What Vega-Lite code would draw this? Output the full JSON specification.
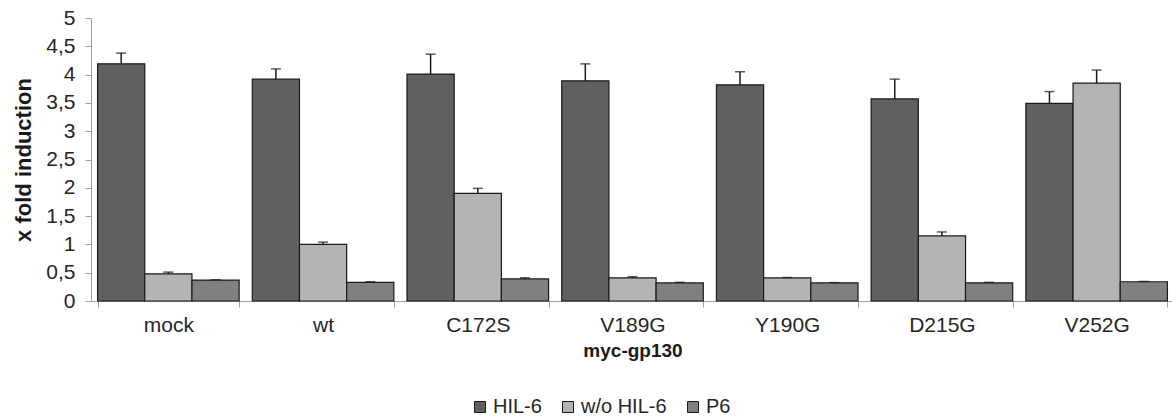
{
  "$schema": "https://vega.github.io/schema/vega-lite/v6.json",
  "width": 1083,
  "height": 283,
  "autosize": {"type": "none"},
  "padding": {"left": 91, "top": 18, "right": 0, "bottom": 118},
  "background": "white",
  "config": {
    "view": {"stroke": null},
    "font": "Liberation Sans",
    "axis": {"labelFont": "Liberation Sans", "titleFont": "Liberation Sans", "labelColor": "#262626", "titleColor": "#1a1a1a", "domainColor": "#a0a0a0", "tickColor": "#a0a0a0", "grid": false},
    "axisY": {"titleFontSize": 22, "titleFontWeight": "bold", "titlePadding": 10, "labelFontSize": 21, "tickSize": 6, "labelPadding": 10, "labelOverlap": false}
  },
  "data": {
    "values": [
      {"group": "mock", "series": "HIL-6", "value": 4.19, "upper": 4.38},
      {"group": "mock", "series": "w/o HIL-6", "value": 0.48, "upper": 0.51},
      {"group": "mock", "series": "P6", "value": 0.37, "upper": 0.375},
      {"group": "wt", "series": "HIL-6", "value": 3.92, "upper": 4.10},
      {"group": "wt", "series": "w/o HIL-6", "value": 1.0, "upper": 1.04},
      {"group": "wt", "series": "P6", "value": 0.33, "upper": 0.34},
      {"group": "C172S", "series": "HIL-6", "value": 4.01, "upper": 4.36},
      {"group": "C172S", "series": "w/o HIL-6", "value": 1.90, "upper": 1.99},
      {"group": "C172S", "series": "P6", "value": 0.39, "upper": 0.41},
      {"group": "V189G", "series": "HIL-6", "value": 3.89, "upper": 4.19},
      {"group": "V189G", "series": "w/o HIL-6", "value": 0.41, "upper": 0.43},
      {"group": "V189G", "series": "P6", "value": 0.32, "upper": 0.33},
      {"group": "Y190G", "series": "HIL-6", "value": 3.82, "upper": 4.05},
      {"group": "Y190G", "series": "w/o HIL-6", "value": 0.41, "upper": 0.415},
      {"group": "Y190G", "series": "P6", "value": 0.32, "upper": 0.325},
      {"group": "D215G", "series": "HIL-6", "value": 3.57, "upper": 3.92},
      {"group": "D215G", "series": "w/o HIL-6", "value": 1.15, "upper": 1.22},
      {"group": "D215G", "series": "P6", "value": 0.32, "upper": 0.33},
      {"group": "V252G", "series": "HIL-6", "value": 3.49, "upper": 3.70},
      {"group": "V252G", "series": "w/o HIL-6", "value": 3.85, "upper": 4.08},
      {"group": "V252G", "series": "P6", "value": 0.34, "upper": 0.345}
    ]
  },
  "encoding": {
    "x": {
      "field": "group", "type": "nominal",
      "sort": ["mock", "wt", "C172S", "V189G", "Y190G", "D215G", "V252G"],
      "scale": {"paddingInner": 0.085, "paddingOuter": 0.0425},
      "axis": {"title": "myc-gp130", "titleFontSize": 19, "titleFontWeight": "bold", "titlePadding": 6, "labelFontSize": 21, "labelAngle": 0, "labelPadding": 7, "tickSize": 6, "tickBand": "extent", "domainColor": "#a0a0a0"}
    },
    "xOffset": {"field": "series", "type": "nominal", "sort": ["HIL-6", "w/o HIL-6", "P6"], "scale": {"paddingInner": 0, "paddingOuter": 0}}
  },
  "layer": [
    {
      "mark": {"type": "bar", "stroke": "#1a1a1a", "strokeWidth": 1.2},
      "encoding": {
        "y": {
          "field": "value", "type": "quantitative",
          "scale": {"domain": [0, 5], "nice": false},
          "axis": {"title": "x fold induction", "tickCount": 10, "labelExpr": "replace(toString(datum.value), '.', ',')"}
        },
        "color": {
          "field": "series", "type": "nominal",
          "sort": ["HIL-6", "w/o HIL-6", "P6"],
          "scale": {"domain": ["HIL-6", "w/o HIL-6", "P6"], "range": ["#606060", "#b4b4b4", "#808080"]},
          "legend": {
            "title": null, "orient": "none", "direction": "horizontal",
            "legendX": 379, "legendY": 379,
            "symbolType": "square", "symbolSize": 121, "symbolStrokeColor": "#1a1a1a", "symbolStrokeWidth": 1,
            "labelFontSize": 20, "labelFont": "Liberation Sans", "labelColor": "#262626", "labelOffset": 3, "columnPadding": 16
          }
        }
      }
    },
    {
      "mark": {"type": "rule", "color": "#1a1a1a", "strokeWidth": 1.5},
      "encoding": {
        "y": {"field": "value", "type": "quantitative", "axis": {"title": "x fold induction", "tickCount": 10, "labelExpr": "replace(toString(datum.value), '.', ',')"}},
        "y2": {"field": "upper"}
      }
    },
    {
      "mark": {"type": "tick", "color": "#1a1a1a", "size": 10, "thickness": 1.5},
      "encoding": {
        "y": {"field": "upper", "type": "quantitative", "axis": {"title": "x fold induction", "tickCount": 10, "labelExpr": "replace(toString(datum.value), '.', ',')"}}
      }
    }
  ]
}
